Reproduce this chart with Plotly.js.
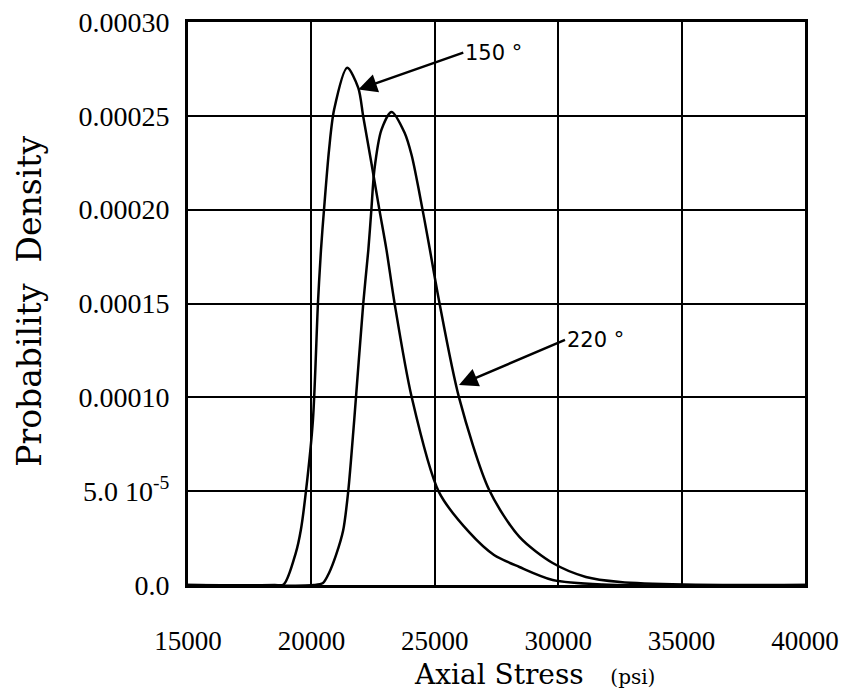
<!DOCTYPE html>
<html><head><meta charset="utf-8">
<script src="https://cdn.plot.ly/plotly-3.0.1.min.js"></script>
<style>body{margin:0;background:#fff}#c{width:854px;height:695px}</style>
</head><body><div id="c"></div>
<script>
// 150° curve
const x150 = [15000, 18500, 18878, 19368, 19572, 19776, 20062, 20266, 20388, 20510, 20715, 20919, 21450, 21899, 22103, 22429, 22756, 23042, 23368, 24062, 25164, 26400, 27400, 28429, 29776, 31800, 40000];
const y150 = [0, 0, 0.0000003, 0.0000171, 0.0000293, 0.0000496, 0.0000879, 0.0001503, 0.0001786, 0.0001999, 0.0002319, 0.0002532, 0.0002756, 0.0002649, 0.0002494, 0.0002250, 0.0001999, 0.0001786, 0.0001503, 0.0001002, 0.0000496, 0.0000280, 0.0000160, 0.0000096, 0.0000027, 0.0000003, 0];
// 220° curve
const x220 = [15000, 20100, 20470, 20715, 21000, 21286, 21490, 21735, 22103, 22307, 22429, 22552, 22837, 23245, 23776, 24062, 24389, 24756, 25164, 25980, 27204, 28429, 29776, 31122, 32510, 35080, 40000];
const y220 = [0, 0, 0.0000011, 0.0000064, 0.0000160, 0.0000290, 0.0000496, 0.0000879, 0.0001503, 0.0001786, 0.0001999, 0.0002212, 0.0002425, 0.0002521, 0.0002410, 0.0002290, 0.0002080, 0.0001820, 0.0001520, 0.0001000, 0.0000506, 0.0000256, 0.0000117, 0.0000043, 0.0000016, 0.0000002, 0];
const xTicks = [15000, 20000, 25000, 30000, 35000, 40000];
const xTickText = ["15000", "20000", "25000", "30000", "35000", "40000"];
const yTicks = [0, 0.00005, 0.0001, 0.00015, 0.0002, 0.00025, 0.0003];
const yTickText = ["0.0", "5.0 10<sup>-5</sup>", "0.00010", "0.00015", "0.00020", "0.00025", "0.00030"];

const serif = "Liberation Serif, Times New Roman, serif";
const wideSerif = "DejaVu Serif, serif";
const line = {color: "#000", width: 2.5, shape: "spline", smoothing: 0.8};
const traces = [
  {x: x150, y: y150, mode: "lines", line: line, name: "150°", hoverinfo: "skip"},
  {x: x220, y: y220, mode: "lines", line: line, name: "220°", hoverinfo: "skip"}
];
const layout = {
  width: 854, height: 695,
  margin: {l: 188, r: 49, t: 22, b: 110},
  paper_bgcolor: "#fff", plot_bgcolor: "#fff",
  showlegend: false,
  font: {family: serif, color: "#000"},
  xaxis: {
    range: [15000, 40000], tickvals: xTicks, ticktext: xTickText,
    showgrid: true, gridcolor: "#000", gridwidth: 2, zeroline: false,
    showline: true, linecolor: "#000", linewidth: 3, mirror: true,
    ticks: "", ticklabelstandoff: 30,
    tickfont: {family: serif, size: 27, color: "#000"}
  },
  yaxis: {
    range: [0, 0.0003], tickvals: yTicks, ticktext: yTickText,
    showgrid: true, gridcolor: "#000", gridwidth: 2, zeroline: false,
    showline: true, linecolor: "#000", linewidth: 3, mirror: true,
    ticks: "", ticklabelstandoff: 10,
    tickfont: {family: serif, size: 28, color: "#000"}
  },
  annotations: [
    {xref: "paper", yref: "paper", x: 0.5, y: 0, xshift: 38, yshift: -89, xanchor: "center", yanchor: "middle",
     showarrow: false, text: "Axial Stress&nbsp;&nbsp;&nbsp;<span style=\"font-size:20px\">(psi)</span>",
     font: {family: wideSerif, size: 28, color: "#000"}},
    {xref: "paper", yref: "paper", x: 0, xshift: -158, y: 0.503, textangle: -90,
     xanchor: "center", yanchor: "middle", showarrow: false, text: "Probability  Density",
     font: {family: wideSerif, size: 33, color: "#000"}},
    {x: 21899, y: 0.000264, ax: 105, ay: -37, text: "150 °", xanchor: "left", yanchor: "middle",
     showarrow: true, arrowhead: 2, arrowsize: 1.5, arrowwidth: 2.5, arrowcolor: "#000",
     font: {family: "DejaVu Sans, sans-serif", size: 21, color: "#000"}},
    {x: 25980, y: 0.0001066, ax: 106, ay: -45, text: "220 °", xanchor: "left", yanchor: "middle",
     showarrow: true, arrowhead: 2, arrowsize: 1.5, arrowwidth: 2.5, arrowcolor: "#000",
     font: {family: "DejaVu Sans, sans-serif", size: 21, color: "#000"}}
  ]
};
Plotly.newPlot("c", traces, layout, {displayModeBar: false, staticPlot: true});
</script></body></html>
